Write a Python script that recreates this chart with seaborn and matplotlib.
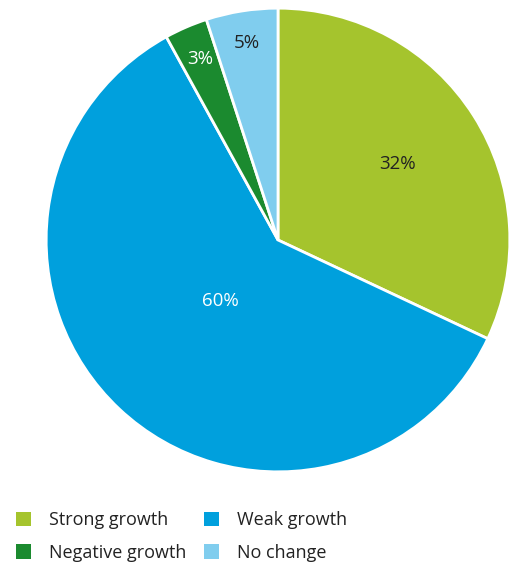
import numpy as np
import matplotlib
matplotlib.use("Agg")
import matplotlib.pyplot as plt
from matplotlib.patches import Patch
import seaborn as sns

categories = ["Strong growth", "Weak growth", "Negative growth", "No change"]
values = [32, 60, 3, 5]
colors = ["#a5c42d", "#00a0dd", "#1b8a2f", "#80cdee"]
label_colors = ["#222222", "white", "white", "#222222"]
label_dist = [0.61, 0.36, 0.85, 0.86]
legend_order = ["Strong growth", "Negative growth", "Weak growth", "No change"]

sns.set_theme(style="white")
plt.rcParams["font.family"] = ["Open Sans", "DejaVu Sans"]

W, H = 510, 565
fig = plt.figure(figsize=(W / 100, H / 100), dpi=100)
cx, cy, r = 278, 240, 233
ax = fig.add_axes([(cx - r) / W, (H - cy - r) / H, 2 * r / W, 2 * r / H])

wedges, _ = ax.pie(values, colors=colors, startangle=90, counterclock=False,
                   radius=1, wedgeprops=dict(edgecolor="white", linewidth=2))
for w, v, c, d in zip(wedges, values, label_colors, label_dist):
    ang = np.deg2rad((w.theta1 + w.theta2) / 2)
    ax.text(d * np.cos(ang), d * np.sin(ang), f"{v}%", ha="center", va="center",
            color=c, fontsize=13.5)
ax.set_xlim(-1.005, 1.005)
ax.set_ylim(-1.005, 1.005)
ax.set_aspect("equal")
ax.axis("off")

cmap = dict(zip(categories, colors))
handles = [Patch(facecolor=cmap[k], edgecolor="none", label=k) for k in legend_order]
leg = fig.legend(handles=handles, ncol=2, loc="upper left",
                 bbox_to_anchor=(16 / W, 1 - 511 / H), frameon=False, borderpad=0,
                 borderaxespad=0,
                 fontsize=13, handlelength=0.85, handleheight=0.85,
                 handletextpad=1.0, columnspacing=0.95, labelspacing=0.82)
for t in leg.get_texts():
    t.set_color("#222222")

fig.savefig("out.png", dpi=100)
